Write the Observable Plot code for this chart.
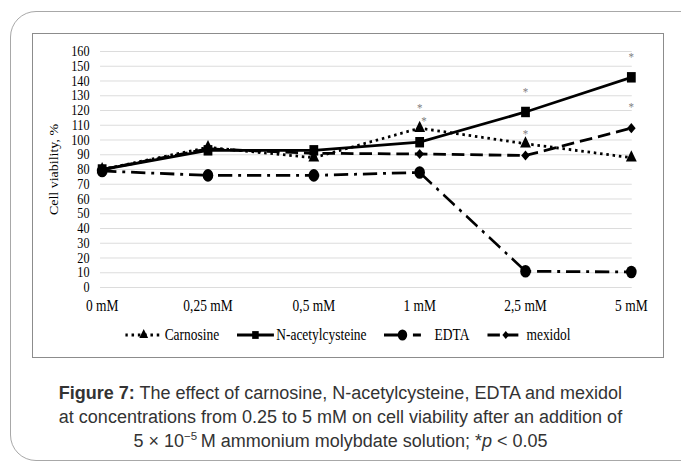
<!DOCTYPE html>
<html><head><meta charset="utf-8">
<script src="https://cdn.jsdelivr.net/npm/d3@7"></script>
<script src="https://cdn.jsdelivr.net/npm/@observablehq/plot@0.6"></script>
<style>
body{margin:0;background:#fff;}
#wrap{position:relative;width:681px;height:462px;overflow:hidden;background:#fff;}
#outer{position:absolute;left:10px;top:11px;width:720px;height:450px;border:1px solid #a8a8a8;border-radius:26px;box-sizing:border-box;}
#inner{position:absolute;left:32px;top:33px;width:632px;height:325px;border:1px solid #8c8c8c;box-sizing:border-box;}
#squeeze{position:absolute;left:32px;top:33px;width:752px;height:325px;transform:scaleX(0.84);transform-origin:0 0;}
#chart{position:absolute;left:0;top:0;}
#legend{position:absolute;left:0;top:292px;width:752px;height:20px;display:flex;justify-content:center;align-items:center;gap:21px;font-family:"Liberation Serif",serif;font-size:16px;color:#000;}
#legend .item{display:flex;align-items:center;gap:2px;}
#caption{position:absolute;left:0;top:381px;width:681px;text-align:center;font-family:"Liberation Sans",Arial,sans-serif;font-size:18px;line-height:24px;color:#333;}
#caption sup{font-size:11.5px;line-height:0;}
</style>
</head><body>
<div id="wrap">
  <div id="outer"></div>
  <div id="inner"></div>
  <div id="squeeze">
    <div id="chart"></div>
    <div id="legend"></div>
  </div>
  <div id="caption"><b>Figure 7:</b> The effect of carnosine, N-acetylcysteine, EDTA and mexidol<br>at concentrations from 0.25 to 5 mM on cell viability after an addition of<br>5 &#215; 10<sup>&#8722;5</sup>&#8201;M ammonium molybdate solution; *<i>p</i> &lt; 0.05</div>
</div>
<script>
// ---- data ----
const concentrations = ["0 mM", "0,25 mM", "0,5 mM", "1 mM", "2,5 mM", "5 mM"];
const carnosine = [80, 95, 88, 108, 97.5, 88];
const nac = [80, 93, 93, 98.5, 119, 142.5];
const edta = [79, 76, 76, 78, 11, 10.5];
const mexidol = [80, 94, 91, 90.5, 89.5, 108];
const seriesNames = ["Carnosine", "N-acetylcysteine", "EDTA", "mexidol"];
const yTicks = [0, 10, 20, 30, 40, 50, 60, 70, 80, 90, 100, 110, 120, 130, 140, 150, 160];
const starConc = ["1 mM", "1 mM", "2,5 mM", "2,5 mM", "5 mM", "5 mM"];
const starValue = [123.5, 115, 134.5, 106.5, 158.5, 124.5];

// ---- styles ----
const seriesValues = [carnosine, nac, edta, mexidol];
const styles = {
  "Carnosine": {dash: "3,4.5", symbol: "triangle", r: 4.8, lr: 3.9},
  "N-acetylcysteine": {dash: null, symbol: "square", r: 5.9, lr: 4.4},
  "EDTA": {dash: "17,7,3.5,7", symbol: "circle", r: 6.3, lr: 5.6},
  "mexidol": {dash: "15,7", symbol: "diamond2", r: 4.6, lr: 3.6}
};

const rows = seriesNames.flatMap((s, k) =>
  concentrations.map((c, i) => ({series: s, conc: c, value: seriesValues[k][i]})));
const stars = starConc.map((c, i) => ({conc: c, value: starValue[i], idx: i}));

const marks = [
  Plot.gridY(yTicks, {stroke: "#d9d9d9", strokeOpacity: 1, strokeWidth: 1}),
  Plot.axisY(yTicks, {tickSize: 0, tickPadding: 13, fontSize: 14.5, label: null}),
  Plot.axisX({tickSize: 0, tickPadding: 12.5, fontSize: 16, label: null}),
  Plot.text(["Cell viability, %"], {frameAnchor: "left", dx: -60, rotate: -90, fontSize: 14, lineAnchor: "top", textAnchor: "middle"})
];
for (const s of seriesNames) {
  const st = styles[s];
  marks.push(Plot.line(rows.filter(d => d.series === s), {
    x: "conc", y: "value", stroke: "#000", strokeWidth: 2.8,
    strokeDasharray: st.dash, strokeLinecap: "butt", strokeLinejoin: "round"
  }));
}
for (const s of seriesNames) {
  const st = styles[s];
  marks.push(Plot.dot(rows.filter(d => d.series === s), {
    x: "conc", y: "value", symbol: () => st.symbol, fill: "#000", stroke: "none", r: st.r
  }));
}
marks.push(Plot.text(stars.filter(d => d.idx !== 1), {x: "conc", y: "value", text: () => "*", fill: "#808080", fontSize: 13, lineAnchor: "middle", dy: 3}));
marks.push(Plot.text(stars.filter(d => d.idx === 1), {x: "conc", y: "value", text: () => "*", fill: "#808080", fontSize: 13, lineAnchor: "middle", dy: 3, dx: 5}));

const chart = Plot.plot({
  width: 752,
  height: 290,
  marginLeft: 81,
  marginRight: 38,
  marginTop: 18,
  marginBottom: 36,
  style: {fontFamily: "'Liberation Serif', serif", fontSize: "16px", color: "#000", background: "transparent", overflow: "visible"},
  x: {type: "point", domain: concentrations, padding: 0},
  y: {domain: [0, 160]},
  marks
});
document.getElementById("chart").appendChild(chart);

// ---- legend ----
const legend = d3.select("#legend");
const symMap = {triangle: d3.symbolTriangle, square: d3.symbolSquare, circle: d3.symbolCircle, diamond2: d3.symbolDiamond2};
for (const s of seriesNames) {
  const st = styles[s];
  const item = legend.append("div").attr("class", "item");
  const svg = item.append("svg").attr("width", 44).attr("height", 16);
  svg.append("line").attr("x1", 0).attr("x2", 44).attr("y1", 8).attr("y2", 8)
    .attr("stroke", "#000").attr("stroke-width", 2.8)
    .attr("stroke-dasharray", st.dash);
  svg.append("path").attr("transform", "translate(22,8)")
    .attr("d", d3.symbol(symMap[st.symbol], Math.PI * st.lr * st.lr)())
    .attr("fill", "#000");
  item.append("span").text(s).style("margin-left", s === "EDTA" ? "14px" : "1px");
}
</script>
</body></html>
